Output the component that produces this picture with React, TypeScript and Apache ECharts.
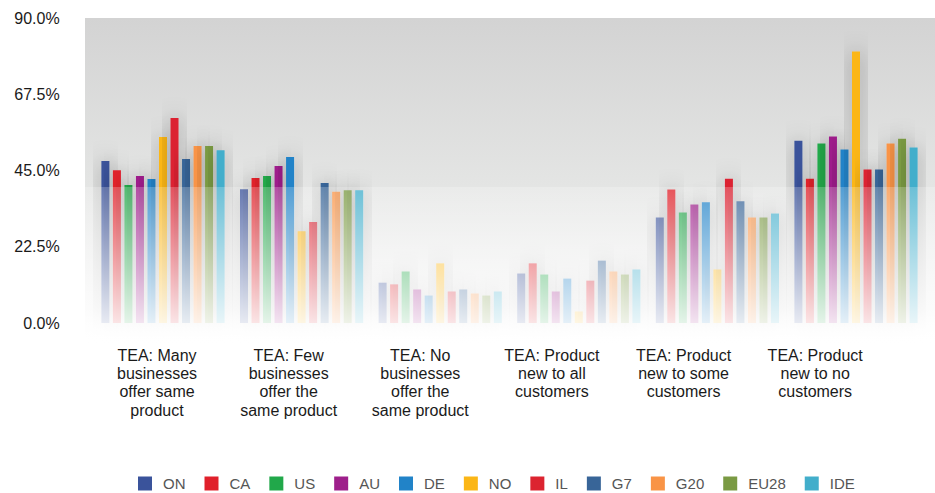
import React, { useEffect, useRef } from "react";
import * as echarts from "echarts";

const categories = [
  "TEA: Many\nbusinesses\noffer same\nproduct",
  "TEA: Few\nbusinesses\noffer the\nsame product",
  "TEA: No\nbusinesses\noffer the\nsame product",
  "TEA: Product\nnew to all\ncustomers",
  "TEA: Product\nnew to some\ncustomers",
  "TEA: Product\nnew to no\ncustomers",
];

const seriesNames = ["ON", "CA", "US", "AU", "DE", "NO", "IL", "G7", "G20", "EU28", "IDE"];

const ON = [47.8, 39.5, 11.9, 14.6, 31.1, 53.8];
const CA = [45.1, 42.8, 11.4, 17.6, 39.4, 42.6];
const US = [40.7, 43.4, 15.2, 14.3, 32.6, 53.0];
const AU = [43.4, 46.3, 9.9, 9.3, 35.0, 55.0];
const DE = [42.5, 49.0, 8.1, 13.1, 35.6, 51.2];
const NO = [54.9, 27.1, 17.6, 3.4, 15.8, 80.1];
const IL = [60.5, 29.8, 9.3, 12.5, 42.6, 45.3];
const G7 = [48.4, 41.3, 9.9, 18.4, 35.9, 45.3];
const G20 = [52.2, 38.7, 8.7, 15.2, 31.1, 53.0];
const EU28 = [52.2, 39.2, 8.1, 14.3, 31.1, 54.4];
const IDE = [51.0, 39.2, 9.3, 15.8, 32.3, 51.8];

const seriesValues = [ON, CA, US, AU, DE, NO, IL, G7, G20, EU28, IDE];

const colors = [
  "#3a539b", "#e0202b", "#21a84a", "#9e1f8b", "#2183c8", "#fbb616",
  "#dc2430", "#386598", "#f99446", "#7a9a43", "#42aecb",
];

const yTicks = { min: 0, max: 90, interval: 22.5 };

export default function App() {
  const ref = useRef<HTMLDivElement>(null);

  useEffect(() => {
    if (!ref.current) return;
    const chart = echarts.init(ref.current, null, { renderer: "svg" });

    const gridTop = 18;
    const gridBottomPx = 323;

    const option: any = {
      animation: false,
      color: colors,
      textStyle: { fontFamily: "Liberation Sans, Arial, sans-serif" },
      grid: [
        { left: 93.7, right: 9.7, top: gridTop, bottom: 493 - gridBottomPx, containLabel: false },
        { left: 91.2, right: 54, top: gridTop, bottom: 493 - gridBottomPx, containLabel: false },
      ],
      xAxis: [
        {
          type: "category",
          gridIndex: 0,
          data: categories,
          axisLine: { show: false },
          axisTick: { show: false },
          axisLabel: { show: false },
        },
        {
          type: "category",
          gridIndex: 1,
          data: categories,
          axisLine: { show: false },
          axisTick: { show: false },
          axisLabel: {
            show: true,
            interval: 0,
            margin: 23,
            fontSize: 16,
            lineHeight: 18.3,
            color: "#1a1a1a",
            align: "center",
            fontFamily: "Liberation Sans, Arial, sans-serif",
          },
        },
      ],
      yAxis: [
        {
          type: "value",
          gridIndex: 0,
          min: yTicks.min,
          max: yTicks.max,
          interval: yTicks.interval,
          axisLine: { show: false },
          axisTick: { show: false },
          splitLine: { show: false },
          axisLabel: {
            margin: 34,
            fontSize: 16,
            color: "#1a1a1a",
            formatter: (v: number) => v.toFixed(1) + "%",
            fontFamily: "Liberation Sans, Arial, sans-serif",
          },
        },
        {
          type: "value",
          gridIndex: 1,
          min: 0,
          max: 90,
          show: false,
        },
      ],
      legend: {
        left: 138,
        top: 476,
        padding: 0,
        itemWidth: 14,
        itemHeight: 14,
        itemGap: 19,
        icon: "rect",
        data: seriesNames,
        textStyle: {
          fontSize: 15,
          color: "#555555",
          padding: [0, 0, 0, 6],
          fontFamily: "Liberation Sans, Arial, sans-serif",
        },
      },
      graphic: [
        {
          type: "rect",
          z: -10,
          silent: true,
          shape: { x: 85, y: gridTop, width: 850, height: 325 },
          style: {
            fill: new echarts.graphic.LinearGradient(0, 0, 0, 1, [
              { offset: 0, color: "#d3d3d3" },
              { offset: 0.52, color: "#e4e5e4" },
              { offset: 0.9, color: "#ececec" },
              { offset: 1, color: "#ffffff" },
            ]),
          },
        },
        {
          type: "rect",
          z: 100,
          silent: true,
          shape: { x: 85, y: 187, width: 850, height: 160 },
          style: {
            fill: new echarts.graphic.LinearGradient(0, 0, 0, 1, [
              { offset: 0, color: "rgba(255,255,255,0.22)" },
              { offset: 0.85, color: "rgba(255,255,255,0.88)" },
              { offset: 1, color: "rgba(255,255,255,1)" },
            ]),
          },
        },
      ],
      series: seriesNames.map((name, i) => ({
        name,
        type: "bar",
        xAxisIndex: 0,
        yAxisIndex: 0,
        data: seriesValues[i],
        barWidth: 8,
        barGap: "44%",
        barCategoryGap: "11%",
        itemStyle: {
          color: colors[i],
          shadowBlur: 22,
          shadowColor: "rgba(0,0,0,0.38)",
        },
      })),
    };

    chart.setOption(option);
    return () => chart.dispose();
  }, []);

  return (
    <div
      ref={ref}
      style={{ position: "fixed", left: 0, top: 0, width: 935, height: 493, background: "#ffffff" }}
    />
  );
}
